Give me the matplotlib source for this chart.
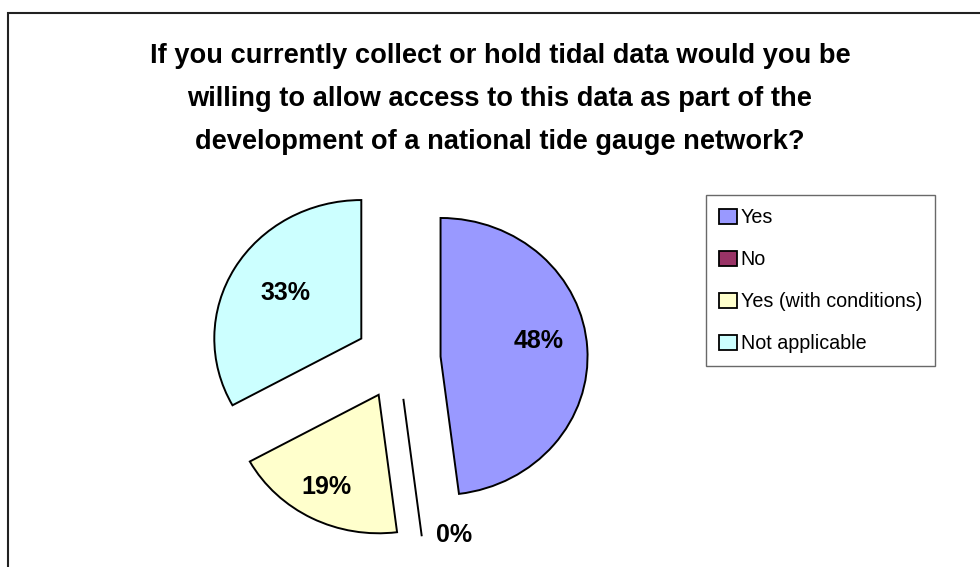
import matplotlib.pyplot as plt
from matplotlib.patches import Patch, Rectangle
import numpy as np

plt.rcParams['font.family'] = ['Liberation Sans', 'DejaVu Sans']

categories = ['Yes', 'No', 'Yes (with conditions)', 'Not applicable']
shares = [48, 0, 19, 33]
colors = ['#9999FF', '#993366', '#FFFFCC', '#CCFFFF']
title_lines = ['If you currently collect or hold tidal data would you be',
               'willing to allow access to this data as part of the',
               'development of a national tide gauge network?']

W, H = 980, 567
fig = plt.figure(figsize=(W / 100, H / 100), dpi=100)
ax = fig.add_axes([0, 0, 1, 1])

wedges, _ = ax.pie(shares, colors=colors, startangle=90, counterclock=False,
                   explode=[0.29] * 4, radius=1.0,
                   wedgeprops=dict(edgecolor='black', linewidth=1.4))

# pixel scale of one radius, slightly wider than tall
sx, sy = 147.0, 138.5
cx, cy = 398, 359
ax.set_xlim(-cx / sx, (W - cx) / sx)
ax.set_ylim(-(H - cy) / sy, cy / sy)
ax.set_aspect('auto')
ax.axis('off')

# percentage labels along each wedge's bisector
label_r = [0.68, 1.04, 0.75, 0.61]
label_turn = [-6, -12, 1, 2]
for w, v, r, t in zip(wedges, shares, label_r, label_turn):
    mid = np.deg2rad((w.theta1 + w.theta2) / 2 - t)
    x0, y0 = w.center
    ax.text(x0 + r * np.cos(mid), y0 + r * np.sin(mid), f'{v}%',
            ha='center', va='center', fontsize=18, fontweight='bold')

for i, line in enumerate(title_lines):
    fig.text(500 / W, 1 - (56 + 43 * i) / H, line, ha='center', va='center',
             fontsize=19.6, fontweight='bold')

handles = [Patch(facecolor=c, edgecolor='black', linewidth=1.3) for c in colors]
leg = fig.legend(handles, categories, loc='upper left',
                 bbox_to_anchor=(706 / W, 1 - 195 / H),
                 fontsize=14.2, frameon=True, fancybox=False, edgecolor='#444444',
                 handlelength=0.9, handleheight=0.8, handletextpad=0.2,
                 labelspacing=1.17, borderpad=0.66, borderaxespad=0)
leg.get_frame().set_linewidth(1.0)

# chart area border, running off the right and bottom edges
fig.add_artist(Rectangle((8 / W, -0.05), 1.1, 1.05 - 13 / H, transform=fig.transFigure,
                         fill=False, edgecolor='#222222', linewidth=1.5))

fig.savefig('out.png', dpi=100)
